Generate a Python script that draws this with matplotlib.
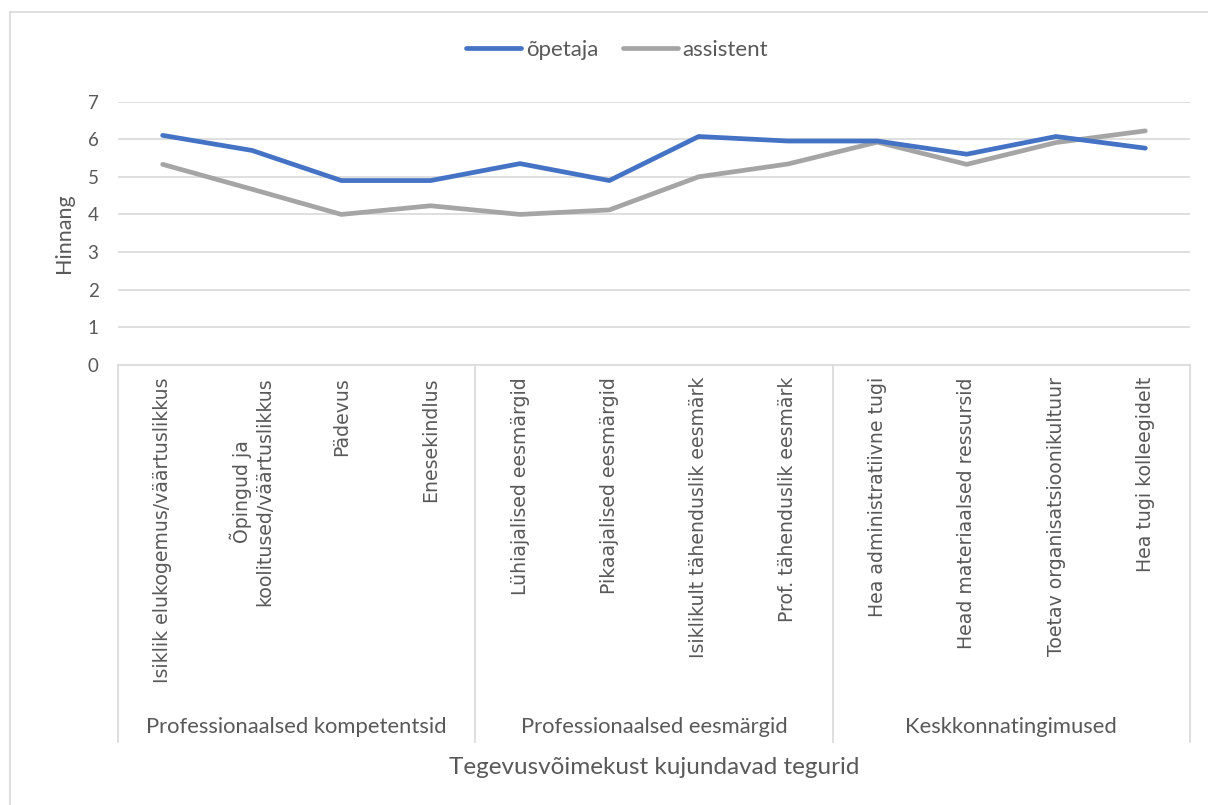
import matplotlib
matplotlib.use("Agg")
import matplotlib.pyplot as plt
from matplotlib.lines import Line2D
import matplotlib.transforms as mtransforms
import numpy as np

# data
categories = [
    "Isiklik elukogemus/väärtuslikkus",
    "Õpingud ja\nkoolitused/väärtuslikkus",
    "Pädevus",
    "Enesekindlus",
    "Lühiajalised eesmärgid",
    "Pikaajalised eesmärgid",
    "Isiklikult tähenduslik eesmärk",
    "Prof. tähenduslik eesmärk",
    "Hea administratiivne tugi",
    "Head materiaalsed ressursid",
    "Toetav organisatsioonikultuur",
    "Hea tugi kolleegidelt",
]
groups = ["Professionaalsed kompetentsid", "Professionaalsed eesmärgid", "Keskkonnatingimused"]
group_sizes = [4, 4, 4]
opetaja = [6.1, 5.7, 4.9, 4.9, 5.35, 4.9, 6.07, 5.95, 5.95, 5.6, 6.07, 5.76]
assistent = [5.33, 4.67, 4.0, 4.23, 4.0, 4.12, 5.0, 5.34, 5.92, 5.33, 5.91, 6.22]

TXT = "#595959"
GRID = "#D9D9D9"
CAL = ["Lato", "DejaVu Sans"]
WIDE = ["DejaVu Sans"]

W, H = 1208, 805
fig = plt.figure(figsize=(W / 100, H / 100), dpi=100)
fig.patch.set_facecolor("white")

# outer chart frame (right/bottom run off the picture)
fig.add_artist(Line2D([10 / W, 10 / W], [0, 1 - 12 / H], transform=fig.transFigure, color=GRID, lw=1.2))
fig.add_artist(Line2D([10 / W, 1], [1 - 12 / H, 1 - 12 / H], transform=fig.transFigure, color=GRID, lw=1.2))

left, right, top, bottom = 118, 1190, 101.5, 365
ax = fig.add_axes([left / W, 1 - bottom / H, (right - left) / W, (bottom - top) / H])

x = np.arange(len(categories))
ax.plot(x, opetaja, color="#4472C4", lw=3.4, solid_capstyle="round", solid_joinstyle="round", label="õpetaja", zorder=3)
ax.plot(x, assistent, color="#A5A5A5", lw=3.4, solid_capstyle="round", solid_joinstyle="round", label="assistent", zorder=2)

ax.set_xlim(-0.5, len(categories) - 0.5)
ax.set_ylim(0, 7)
ax.set_yticks(range(0, 8))
for v in range(1, 8):
    ax.axhline(v, color=GRID, lw=1.2, zorder=1)
ax.axhline(0, color=GRID, lw=1.2, zorder=1, clip_on=False)
for s in ax.spines.values():
    s.set_visible(False)
ax.set_xticks([])
ax.tick_params(axis="y", length=0, pad=14, labelcolor=TXT)
for lab in ax.get_yticklabels():
    lab.set_fontfamily(CAL)
    lab.set_fontsize(13.5)
ax.set_ylabel("Hinnang", fontsize=15.5, color=TXT, family=CAL, labelpad=10)

# multi-level category axis
trans = mtransforms.blended_transform_factory(ax.transData, ax.transAxes)
ax_h = bottom - top
sep_bottom = -(742 - bottom) / ax_h
bounds = np.concatenate([[0], np.cumsum(group_sizes)]) - 0.5
for b in bounds:
    ax.plot([b, b], [0, sep_bottom], transform=trans, color=GRID, lw=1.2, clip_on=False)

for i, c in enumerate(categories):
    ax.text(i, -(377 - bottom) / ax_h, c, transform=trans, rotation=90, ha="center", va="top",
            multialignment="center", fontsize=13.6, color=TXT, family=WIDE, linespacing=1.25)

for g, a, b in zip(groups, bounds[:-1], bounds[1:]):
    ax.text((a + b) / 2, -(727 - bottom) / ax_h, g, transform=trans, ha="center", va="center",
            fontsize=15.8, color=TXT, family=CAL)

fig.text((left + right) / 2 / W, 1 - 767 / H, "Tegevusvõimekust kujundavad tegurid", ha="center", va="center",
         fontsize=17.5, color=TXT, family=CAL)

leg = fig.legend(loc="center", bbox_to_anchor=(617 / W, 1 - 50 / H), ncol=2, frameon=False,
                 prop={"family": CAL, "size": 16}, handlelength=2.5, handletextpad=0.2, columnspacing=1.1)
for t in leg.get_texts():
    t.set_color(TXT)

fig.savefig("out.png", dpi=100)
